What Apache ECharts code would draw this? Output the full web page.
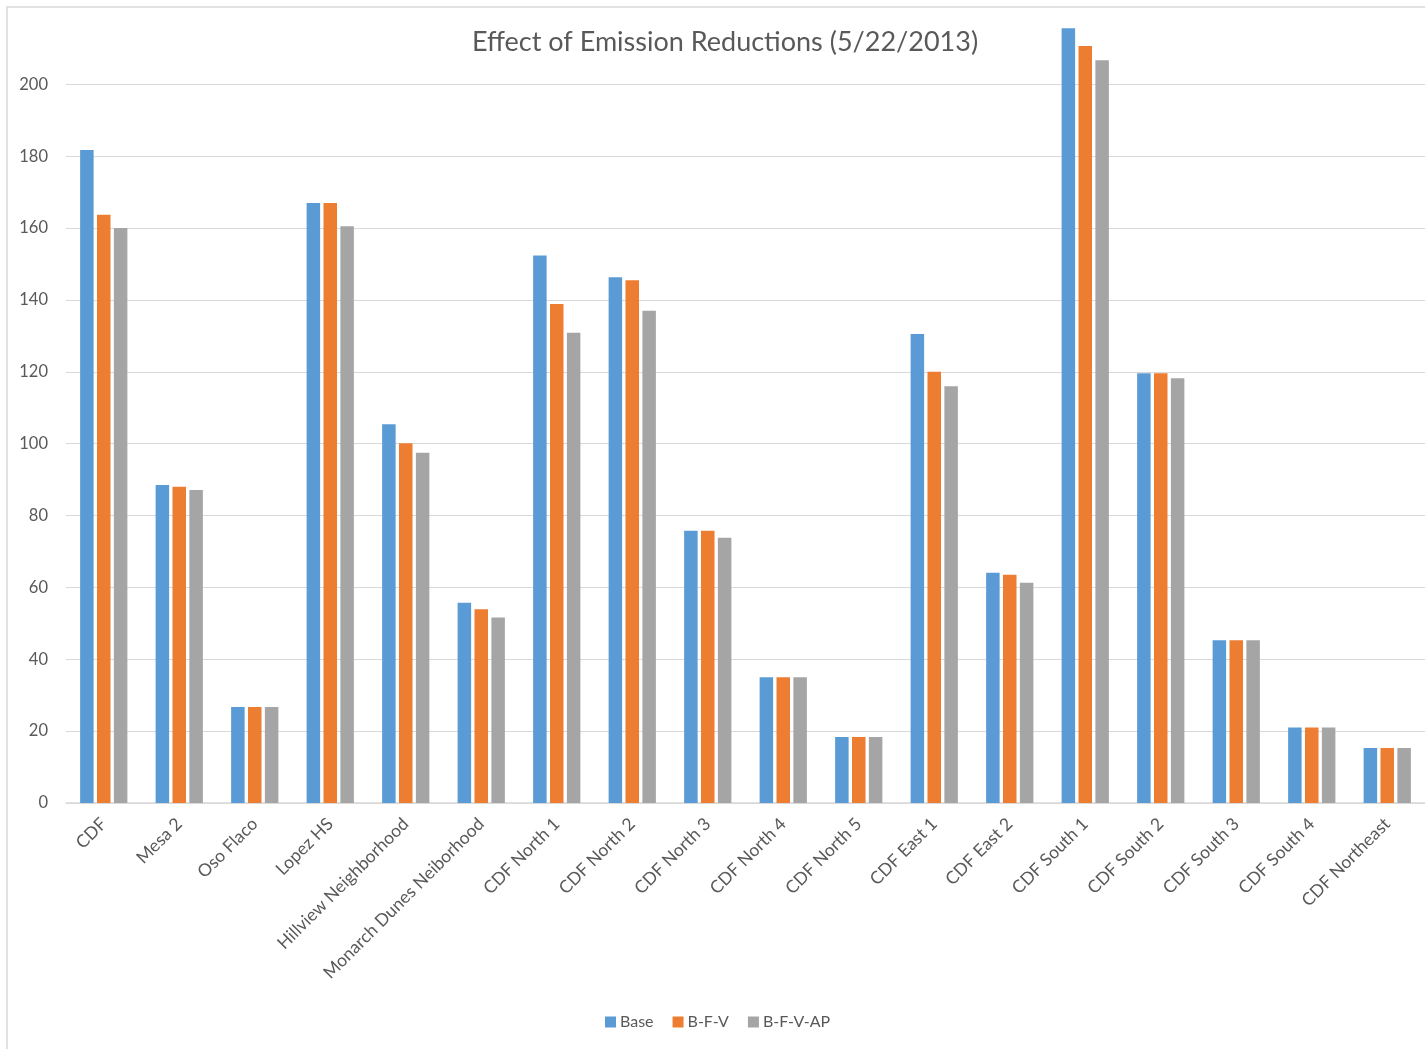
<!DOCTYPE html>
<html>
<head>
<meta charset="utf-8">
<script src="https://cdn.jsdelivr.net/npm/echarts@6/dist/echarts.min.js"></script>
<style>
  html, body { margin: 0; padding: 0; background: #ffffff; }
  #chart { width: 1425px; height: 1049px; }
</style>
</head>
<body>
<div id="chart"></div>
<script>
// Monitoring sites along the category axis
const sites = [
  'CDF', 'Mesa 2', 'Oso Flaco', 'Lopez HS', 'Hillview Neighborhood',
  'Monarch Dunes Neiborhood', 'CDF North 1', 'CDF North 2', 'CDF North 3',
  'CDF North 4', 'CDF North 5', 'CDF East 1', 'CDF East 2', 'CDF South 1',
  'CDF South 2', 'CDF South 3', 'CDF South 4', 'CDF Northeast'
];

// Scenario values per site
const base = [181.7, 88.5, 26.7, 167.0, 105.4, 55.7, 152.4, 146.3, 75.8, 35.0, 18.4, 130.5, 64.1, 215.6, 119.6, 45.3, 21.0, 15.3];
const bfv = [163.7, 88.0, 26.7, 167.0, 100.1, 53.9, 138.9, 145.5, 75.8, 35.0, 18.4, 120.0, 63.5, 210.7, 119.6, 45.3, 21.0, 15.3];
const bfvap = [160.0, 87.1, 26.7, 160.5, 97.5, 51.6, 130.9, 137.0, 73.8, 35.0, 18.4, 116.0, 61.3, 206.7, 118.2, 45.3, 21.0, 15.3];

const seriesNames = ['Base', 'B-F-V', 'B-F-V-AP'];
const seriesColors = ['#5B9BD5', '#ED7D31', '#A5A5A5'];

// Value axis: 0..220 in steps of 20; the 220 line and label are left blank
const yMin = 0, yMax = 220, yStep = 20;
const gridColors = [];
for (let v = yMin; v <= yMax; v += yStep) {
  gridColors.push(v === yMax ? 'rgba(0,0,0,0)' : '#d9d9d9');
}

const FONT = 'Lato, "Open Sans", sans-serif';
const TEXT = '#595959';

const chart = echarts.init(document.getElementById('chart'), null, { renderer: 'canvas' });

const values = [base, bfv, bfvap];

chart.setOption({
  animation: false,
  backgroundColor: '#ffffff',
  title: {
    text: 'Effect of Emission Reductions (5/22/2013)',
    left: 467,
    top: 24,
    textStyle: { fontFamily: FONT, fontSize: 27, fontWeight: 'normal', color: TEXT }
  },
  legend: {
    data: seriesNames,
    left: 600,
    top: 1009,
    itemWidth: 11,
    itemHeight: 11,
    itemGap: 19,
    icon: 'rect',
    textStyle: { fontFamily: FONT, fontSize: 16, color: TEXT, padding: [0, 0, 0, -1] }
  },
  graphic: [{
    type: 'rect',
    silent: true,
    z: -1,
    shape: { x: 7, y: 7, width: 1600, height: 1200 },
    style: { fill: 'none', stroke: '#d9d9d9', lineWidth: 1.5 }
  }],
  grid: {
    left: 66,
    right: 0,
    top: 12.5,
    bottom: 246,
    containLabel: false
  },
  xAxis: {
    type: 'category',
    data: sites,
    axisLine: { show: true, lineStyle: { color: '#d9d9d9', width: 1.5 } },
    axisTick: { show: false },
    axisLabel: {
      interval: 0,
      rotate: 45,
      margin: 18,
      fontFamily: FONT,
      fontSize: 17.5,
      color: TEXT
    }
  },
  yAxis: {
    type: 'value',
    min: yMin,
    max: yMax,
    interval: yStep,
    axisLine: { show: false },
    axisTick: { show: false },
    splitLine: { show: true, lineStyle: { color: gridColors, width: 1.2 } },
    axisLabel: {
      margin: 18,
      fontFamily: FONT,
      fontSize: 16.5,
      color: TEXT,
      formatter: function (v) { return v === yMax ? '' : String(v); }
    }
  },
  series: seriesNames.map(function (name, i) {
    return {
      name: name,
      type: 'bar',
      data: values[i],
      barWidth: 13.5,
      barGap: '25%',
      itemStyle: { color: seriesColors[i] }
    };
  })
});
</script>
</body>
</html>
